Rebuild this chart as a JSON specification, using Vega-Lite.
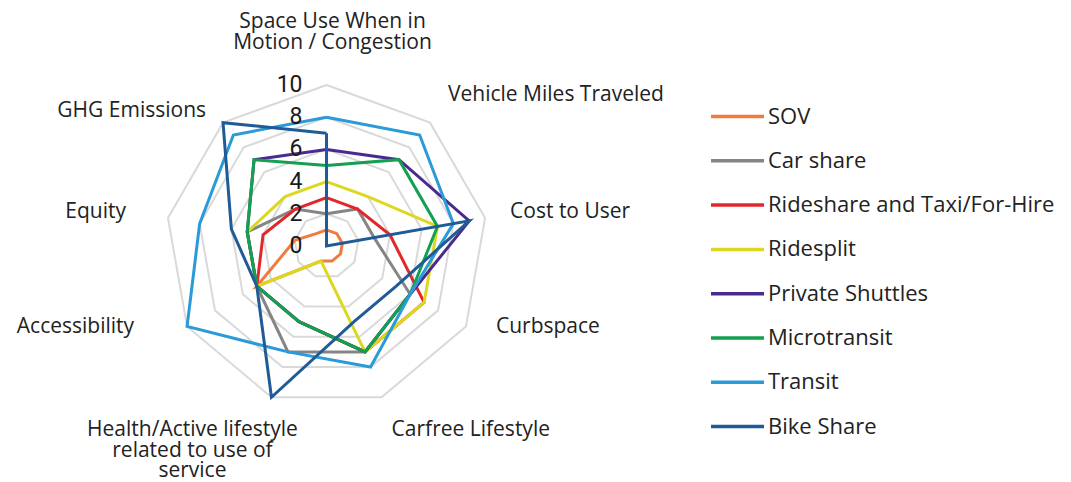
{
  "$schema": "https://vega.github.io/schema/vega-lite/v6.json",
  "width": 1071,
  "height": 482,
  "padding": 0,
  "autosize": {"type": "none"},
  "background": "white",
  "config": {"view": {"stroke": null}, "font": "Open Sans"},
  "datasets": {
    "criteria": [
      {"criterion": "Space Use", "idx": 0, "label": "Space Use When in\nMotion / Congestion", "levels": [2, 4, 6, 8, 10]},
      {"criterion": "VMT", "idx": 1, "label": "Vehicle Miles Traveled", "levels": [2, 4, 6, 8, 10]},
      {"criterion": "Cost", "idx": 2, "label": "Cost to User", "levels": [2, 4, 6, 8, 10]},
      {"criterion": "Curbspace", "idx": 3, "label": "Curbspace", "levels": [2, 4, 6, 8, 10]},
      {"criterion": "Carfree", "idx": 4, "label": "Carfree Lifestyle", "levels": [2, 4, 6, 8, 10]},
      {"criterion": "Health", "idx": 5, "label": "Health/Active lifestyle\nrelated to use of\nservice", "levels": [2, 4, 6, 8, 10]},
      {"criterion": "Accessibility", "idx": 6, "label": "Accessibility", "levels": [2, 4, 6, 8, 10]},
      {"criterion": "Equity", "idx": 7, "label": "Equity", "levels": [2, 4, 6, 8, 10]},
      {"criterion": "GHG", "idx": 8, "label": "GHG Emissions", "levels": [2, 4, 6, 8, 10]}
    ],
    "ticks": [{"level": 0}, {"level": 2}, {"level": 4}, {"level": 6}, {"level": 8}, {"level": 10}],
    "scores": [
      {"mode": "SOV", "criterion": "Space Use", "score": 1},
      {"mode": "SOV", "criterion": "VMT", "score": 1},
      {"mode": "SOV", "criterion": "Cost", "score": 1},
      {"mode": "SOV", "criterion": "Curbspace", "score": 1},
      {"mode": "SOV", "criterion": "Carfree", "score": 1},
      {"mode": "SOV", "criterion": "Health", "score": 1},
      {"mode": "SOV", "criterion": "Accessibility", "score": 5},
      {"mode": "SOV", "criterion": "Equity", "score": 2},
      {"mode": "SOV", "criterion": "GHG", "score": 1},
      {"mode": "Car share", "criterion": "Space Use", "score": 2},
      {"mode": "Car share", "criterion": "VMT", "score": 3},
      {"mode": "Car share", "criterion": "Cost", "score": 3},
      {"mode": "Car share", "criterion": "Curbspace", "score": 6},
      {"mode": "Car share", "criterion": "Carfree", "score": 7},
      {"mode": "Car share", "criterion": "Health", "score": 7},
      {"mode": "Car share", "criterion": "Accessibility", "score": 5},
      {"mode": "Car share", "criterion": "Equity", "score": 5},
      {"mode": "Car share", "criterion": "GHG", "score": 3},
      {"mode": "Rideshare and Taxi/For-Hire", "criterion": "Space Use", "score": 3},
      {"mode": "Rideshare and Taxi/For-Hire", "criterion": "VMT", "score": 3},
      {"mode": "Rideshare and Taxi/For-Hire", "criterion": "Cost", "score": 4},
      {"mode": "Rideshare and Taxi/For-Hire", "criterion": "Curbspace", "score": 7},
      {"mode": "Rideshare and Taxi/For-Hire", "criterion": "Carfree", "score": 7},
      {"mode": "Rideshare and Taxi/For-Hire", "criterion": "Health", "score": 5},
      {"mode": "Rideshare and Taxi/For-Hire", "criterion": "Accessibility", "score": 5},
      {"mode": "Rideshare and Taxi/For-Hire", "criterion": "Equity", "score": 4},
      {"mode": "Rideshare and Taxi/For-Hire", "criterion": "GHG", "score": 3},
      {"mode": "Ridesplit", "criterion": "Space Use", "score": 4},
      {"mode": "Ridesplit", "criterion": "VMT", "score": 4},
      {"mode": "Ridesplit", "criterion": "Cost", "score": 7},
      {"mode": "Ridesplit", "criterion": "Curbspace", "score": 7},
      {"mode": "Ridesplit", "criterion": "Carfree", "score": 7},
      {"mode": "Ridesplit", "criterion": "Health", "score": 1},
      {"mode": "Ridesplit", "criterion": "Accessibility", "score": 5},
      {"mode": "Ridesplit", "criterion": "Equity", "score": 5},
      {"mode": "Ridesplit", "criterion": "GHG", "score": 4},
      {"mode": "Private Shuttles", "criterion": "Space Use", "score": 6},
      {"mode": "Private Shuttles", "criterion": "VMT", "score": 7},
      {"mode": "Private Shuttles", "criterion": "Cost", "score": 9},
      {"mode": "Private Shuttles", "criterion": "Curbspace", "score": 6},
      {"mode": "Private Shuttles", "criterion": "Carfree", "score": 7},
      {"mode": "Private Shuttles", "criterion": "Health", "score": 5},
      {"mode": "Private Shuttles", "criterion": "Accessibility", "score": 5},
      {"mode": "Private Shuttles", "criterion": "Equity", "score": 5},
      {"mode": "Private Shuttles", "criterion": "GHG", "score": 7},
      {"mode": "Microtransit", "criterion": "Space Use", "score": 5},
      {"mode": "Microtransit", "criterion": "VMT", "score": 7},
      {"mode": "Microtransit", "criterion": "Cost", "score": 7},
      {"mode": "Microtransit", "criterion": "Curbspace", "score": 6},
      {"mode": "Microtransit", "criterion": "Carfree", "score": 7},
      {"mode": "Microtransit", "criterion": "Health", "score": 5},
      {"mode": "Microtransit", "criterion": "Accessibility", "score": 5},
      {"mode": "Microtransit", "criterion": "Equity", "score": 5},
      {"mode": "Microtransit", "criterion": "GHG", "score": 7},
      {"mode": "Transit", "criterion": "Space Use", "score": 8},
      {"mode": "Transit", "criterion": "VMT", "score": 9},
      {"mode": "Transit", "criterion": "Cost", "score": 8},
      {"mode": "Transit", "criterion": "Curbspace", "score": 6},
      {"mode": "Transit", "criterion": "Carfree", "score": 8},
      {"mode": "Transit", "criterion": "Health", "score": 7},
      {"mode": "Transit", "criterion": "Accessibility", "score": 10},
      {"mode": "Transit", "criterion": "Equity", "score": 8},
      {"mode": "Transit", "criterion": "GHG", "score": 9},
      {"mode": "Bike Share", "criterion": "Space Use", "score": 7},
      {"mode": "Bike Share", "criterion": "VMT", "score": 0},
      {"mode": "Bike Share", "criterion": "Cost", "score": 9},
      {"mode": "Bike Share", "criterion": "Curbspace", "score": 5},
      {"mode": "Bike Share", "criterion": "Carfree", "score": 5},
      {"mode": "Bike Share", "criterion": "Health", "score": 10},
      {"mode": "Bike Share", "criterion": "Accessibility", "score": 5},
      {"mode": "Bike Share", "criterion": "Equity", "score": 6},
      {"mode": "Bike Share", "criterion": "GHG", "score": 10}
    ]
  },
  "layer": [
    {
      "data": {"name": "criteria"},
      "transform": [
        {"flatten": ["levels"], "as": ["level"]},
        {"calculate": "datum.idx * 2 * PI / 9", "as": "ang"},
        {"calculate": "datum.level * sin(datum.ang)", "as": "px"},
        {"calculate": "datum.level * cos(datum.ang)", "as": "py"},
        {"calculate": "datum.idx", "as": "o1"},
        {"calculate": "datum.idx == 0 ? 9 : -1", "as": "o2"},
        {"fold": ["o1", "o2"], "as": ["okey", "ord"]},
        {"filter": "datum.ord >= 0"}
      ],
      "mark": {"type": "line", "stroke": "#D9D9D9", "strokeWidth": 2},
      "encoding": {
        "x": {"field": "px", "type": "quantitative", "scale": {"domain": [-20.28, 46.24], "nice": false, "zero": false}, "axis": null},
        "y": {"field": "py", "type": "quantitative", "scale": {"domain": [-14.66, 15.28], "nice": false, "zero": false}, "axis": null},
        "detail": {"field": "level", "type": "nominal"},
        "order": {"field": "ord", "type": "quantitative"}
      }
    },
    {
      "data": {"name": "scores"},
      "transform": [
        {"lookup": "criterion", "from": {"data": {"name": "criteria"}, "key": "criterion", "fields": ["idx"]}},
        {"calculate": "datum.idx * 2 * PI / 9", "as": "ang"},
        {"calculate": "datum.score * sin(datum.ang)", "as": "px"},
        {"calculate": "datum.score * cos(datum.ang)", "as": "py"},
        {"calculate": "datum.idx", "as": "o1"},
        {"calculate": "datum.idx == 0 ? 9 : -1", "as": "o2"},
        {"fold": ["o1", "o2"], "as": ["okey", "ord"]},
        {"filter": "datum.ord >= 0"}
      ],
      "mark": {"type": "line", "strokeWidth": 3, "strokeJoin": "miter"},
      "encoding": {
        "x": {"field": "px", "type": "quantitative"},
        "y": {"field": "py", "type": "quantitative"},
        "color": {
          "field": "mode",
          "type": "nominal",
          "scale": {
            "domain": ["SOV", "Car share", "Rideshare and Taxi/For-Hire", "Ridesplit", "Private Shuttles", "Microtransit", "Transit", "Bike Share"],
            "range": ["#F07C3C", "#858585", "#E2272B", "#DDD81F", "#4A2A8F", "#13A14F", "#2B9AD8", "#1F5B96"]
          },
          "legend": {
            "title": null,
            "orient": "none",
            "legendX": 709,
            "legendY": 88,
            "padding": 0,
            "symbolType": "stroke",
            "symbolSize": 2809,
            "symbolStrokeWidth": 3.5,
            "labelFont": "Open Sans",
            "labelFontSize": 22,
            "labelColor": "#222222",
            "labelOffset": 2,
            "rowPadding": 4.3,
            "labelLimit": 400
          }
        },
        "order": {"field": "ord", "type": "quantitative"}
      }
    },
    {
      "data": {"name": "ticks"},
      "mark": {"type": "text", "align": "right", "baseline": "middle", "dx": -24, "fontSize": 23, "color": "#1a1a1a", "font": "Roboto"},
      "encoding": {
        "x": {"datum": 0, "type": "quantitative"},
        "y": {"field": "level", "type": "quantitative"},
        "text": {"field": "level", "type": "quantitative"}
      }
    },
    {
      "data": {"name": "criteria"},
      "transform": [
        {"calculate": "datum.idx * 2 * PI / 9", "as": "ang"},
        {"calculate": "10 * sin(datum.ang)", "as": "px"},
        {"calculate": "10 * cos(datum.ang)", "as": "py"}
      ],
      "encoding": {
        "x": {"field": "px", "type": "quantitative"},
        "y": {"field": "py", "type": "quantitative"},
        "text": {"field": "label", "type": "nominal"}
      },
      "layer": [
        {"transform": [{"filter": "datum.idx == 0"}], "mark": {"type": "text", "align": "center", "baseline": "middle", "dx": 6, "dy": -63, "lineBreak": "\n", "lineHeight": 21, "fontSize": 21, "color": "#222222", "font": "Open Sans"}},
        {"transform": [{"filter": "datum.idx == 1"}], "mark": {"type": "text", "align": "left", "baseline": "middle", "dx": 18, "dy": -28, "fontSize": 21, "color": "#222222", "font": "Open Sans"}},
        {"transform": [{"filter": "datum.idx == 2"}], "mark": {"type": "text", "align": "left", "baseline": "middle", "dx": 25, "dy": -6, "fontSize": 21, "color": "#222222", "font": "Open Sans"}},
        {"transform": [{"filter": "datum.idx == 3"}], "mark": {"type": "text", "align": "left", "baseline": "middle", "dx": 30, "dy": 1, "fontSize": 21, "color": "#222222", "font": "Open Sans"}},
        {"transform": [{"filter": "datum.idx == 4"}], "mark": {"type": "text", "align": "left", "baseline": "middle", "dx": 10, "dy": 33, "fontSize": 21, "color": "#222222", "font": "Open Sans"}},
        {"transform": [{"filter": "datum.idx == 5"}], "mark": {"type": "text", "align": "center", "baseline": "middle", "dx": -79, "dy": 33, "lineBreak": "\n", "lineHeight": 20.5, "fontSize": 21, "color": "#222222", "font": "Open Sans"}},
        {"transform": [{"filter": "datum.idx == 6"}], "mark": {"type": "text", "align": "right", "baseline": "middle", "dx": -53, "dy": 1, "fontSize": 21, "color": "#222222", "font": "Open Sans"}},
        {"transform": [{"filter": "datum.idx == 7"}], "mark": {"type": "text", "align": "right", "baseline": "middle", "dx": -42, "dy": -6, "fontSize": 21, "color": "#222222", "font": "Open Sans"}},
        {"transform": [{"filter": "datum.idx == 8"}], "mark": {"type": "text", "align": "right", "baseline": "middle", "dx": -17, "dy": -12, "fontSize": 21, "color": "#222222", "font": "Open Sans"}}
      ]
    }
  ]
}
